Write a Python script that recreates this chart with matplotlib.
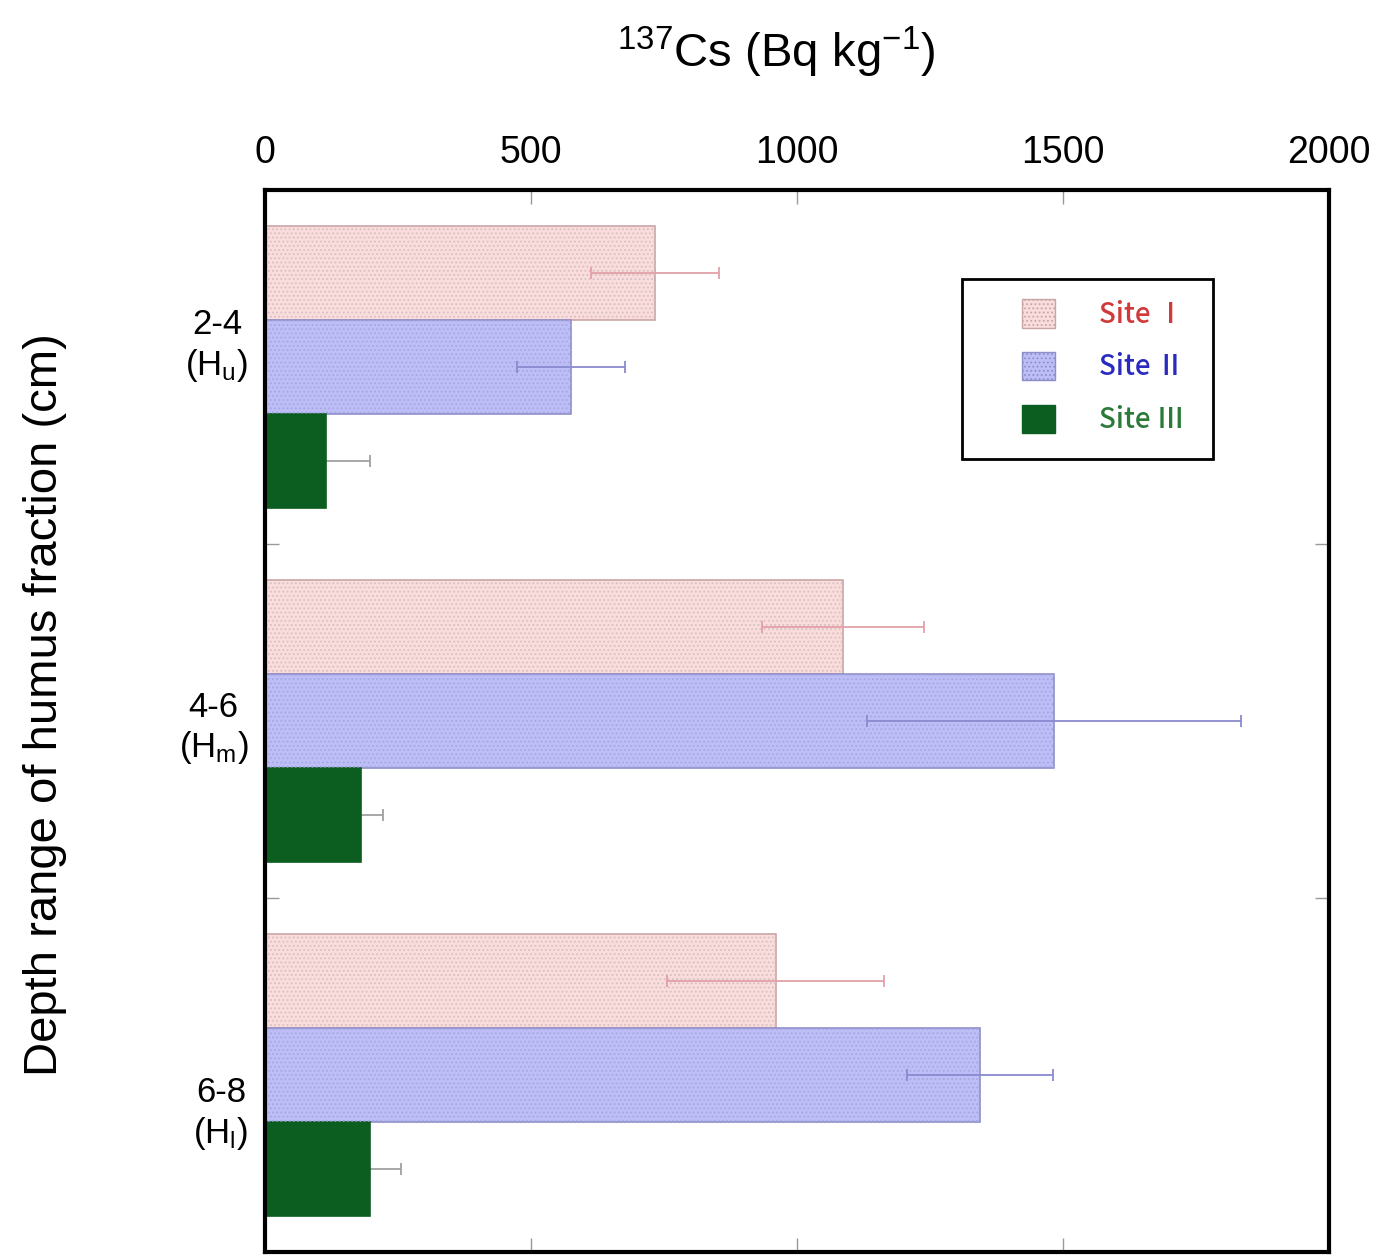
import matplotlib
matplotlib.use("Agg")
import matplotlib.pyplot as plt
from matplotlib.patches import Patch, Rectangle
import numpy as np

plt.rcParams['font.family'] = ['Liberation Sans', 'DejaVu Sans']
plt.rcParams['mathtext.default'] = 'regular'
plt.rcParams['hatch.linewidth'] = 0.8

# ---- data ----
categories = ["2-4\n(H$_{u}$)", "4-6\n(H$_{m}$)", "6-8\n(H$_{l}$)"]
site_names = ["Site Ⅰ", "Site Ⅱ", "Site Ⅲ"]
site1_vals = [733, 1086, 960]
site1_err = [120, 152, 204]
site2_vals = [575, 1483, 1344]
site2_err = [102, 352, 138]
site3_vals = [115, 180, 197]
site3_err = [82, 41, 58]
xticks = [0, 500, 1000, 1500, 2000]

# ---- styles ----
faces = ['#fadcdc', '#bdbdf7', '#0b5e1f']
edges = ['#c9a6a6', '#8e8ec8', '#0b5e1f']
hatch_cols = ['#d6c0c0', '#a8a8e0', None]
err_cols = ['#e3a0a8', '#8a8ad0', '#a0a0a0']
text_cols = ['#d03a3a', '#2a2ac0', '#2a7a3a']

fig = plt.figure(figsize=(13.86, 12.56), dpi=100)
ax = fig.add_axes([265/1386, 1-1252/1256, 1064/1386, 1062/1256])

y = np.arange(len(categories))
h = 0.265
vals = [site1_vals, site2_vals, site3_vals]
errs = [site1_err, site2_err, site3_err]
offsets = [-h, 0, h]

for i in range(3):
    ax.barh(y + offsets[i], vals[i], height=h, color=faces[i], edgecolor=edges[i],
            linewidth=1.2, zorder=2)
    if hatch_cols[i] is not None:
        ax.barh(y + offsets[i], vals[i], height=h, facecolor='none',
                edgecolor=hatch_cols[i], hatch='....', linewidth=0, zorder=2.1)
    ax.errorbar(vals[i], y + offsets[i], xerr=errs[i], fmt='none', ecolor=err_cols[i],
                elinewidth=1.3, capsize=4, capthick=1.3, zorder=3 if i < 2 else 1)

ax.set_xlim(0, 2000)
ax.set_ylim(2.5, -0.5)

ax.xaxis.tick_top()
ax.set_xticks(xticks)
ax.set_xticklabels([str(t) for t in xticks], fontsize=27)
ax.tick_params(axis='x', which='major', direction='in', length=10, width=1,
               color='#999999', pad=14, top=True, bottom=True)

label_shift = np.array([-0.08, 0.0, 0.09])
ax.set_yticks(y + label_shift)
ax.set_yticklabels(categories, fontsize=25, multialignment='center')
ax.tick_params(axis='y', which='major', length=0, pad=12)
ax.set_yticks([0.5, 1.5], minor=True)
ax.tick_params(axis='y', which='minor', direction='in', length=10, width=1,
               color='#999999', left=True, right=True)

for s in ax.spines.values():
    s.set_linewidth(3)

fig.text(776/1386, 1-52/1256, "$^{137}$Cs (Bq kg$^{-1}$)", fontsize=34,
         ha='center', va='center')
fig.text(45/1386, 1-705/1256, "Depth range of humus fraction (cm)", fontsize=34,
         ha='center', va='center', rotation=90)

# legend
handles = [Patch(facecolor=faces[i], edgecolor=edges[i], hatch='....' if i < 2 else None)
           for i in range(3)]
leg = ax.legend(handles, site_names, loc='upper left',
                bbox_to_anchor=(0.711, 0.897), frameon=False, borderpad=0,
                borderaxespad=0, handlelength=1.19, handleheight=1.19,
                handletextpad=1.6, labelspacing=0.83,
                prop={'family': ['Noto Sans CJK JP', 'DejaVu Sans'], 'size': 20,
                      'weight': 'medium'})
for t, c in zip(leg.get_texts(), text_cols):
    t.set_color(c)
ax.add_patch(Rectangle((0.655, 0.747), 0.236, 0.1695, transform=ax.transAxes,
                       fill=False, edgecolor='black', linewidth=2, zorder=5))

fig.savefig("out.png", dpi=100)
